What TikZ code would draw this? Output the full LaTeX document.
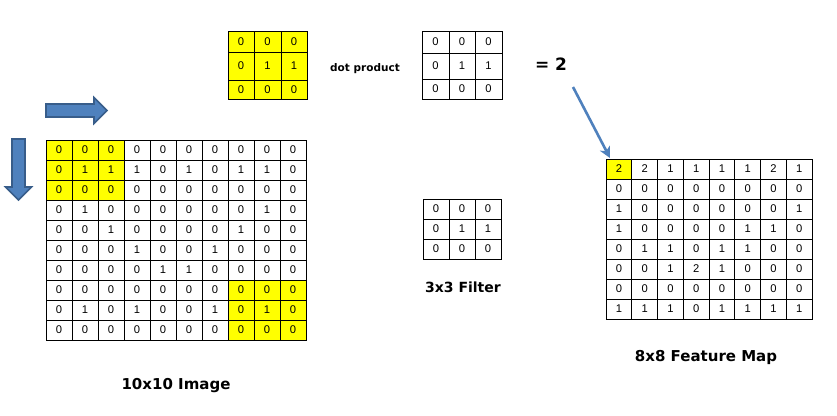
\documentclass[tikz,border=0pt]{standalone}
\usepackage{fontspec}
\setmainfont{Liberation Sans}
\newfontfamily\labfont{DejaVu Sans}
\usetikzlibrary{arrows.meta}
\definecolor{arrowblue}{HTML}{4F81BD}
\definecolor{arrowedge}{HTML}{385D8A}
\definecolor{cellyellow}{HTML}{FFFF00}
\tikzset{
  cell/.style={draw=black, line width=0.9pt, inner sep=0pt, outer sep=0pt,
    font=\fontsize{11.2}{13}\selectfont, text=black},
  lbl/.style={inner sep=0pt, anchor=base, text=black},
  lblbig/.style={lbl, font=\labfont\bfseries\fontsize{15}{18}\selectfont},
  lblsmall/.style={lbl, font=\labfont\bfseries\fontsize{10.5}{12}\selectfont},
  blockarrow/.style={fill=arrowblue, draw=arrowedge, line width=1.6pt, line join=miter},
  thinarrow/.style={draw=arrowblue, line width=2.6pt,
    -{Stealth[length=11pt, width=11pt, inset=3pt]}}
}
\begin{document}
\begin{tikzpicture}[x=1pt, y=-1pt]
\useasboundingbox (0,0) rectangle (837,415);
\fill[white] (0,0) rectangle (837,415);

% block arrows
\draw[blockarrow] (46,104) -- (94,104) -- (94,97.5) -- (107,110.5) -- (94,123.5)
  -- (94,117) -- (46,117) -- cycle;
\draw[blockarrow] (12,139) -- (25,139) -- (25,187) -- (31.5,187) -- (18.5,200)
  -- (5.5,187) -- (12,187) -- cycle;

% 10x10 image
\foreach \row [count=\r] in {
  {0,0,0,0,0,0,0,0,0,0},
  {0,1,1,1,0,1,0,1,1,0},
  {0,0,0,0,0,0,0,0,0,0},
  {0,1,0,0,0,0,0,0,1,0},
  {0,0,1,0,0,0,0,1,0,0},
  {0,0,0,1,0,0,1,0,0,0},
  {0,0,0,0,1,1,0,0,0,0},
  {0,0,0,0,0,0,0,0,0,0},
  {0,1,0,1,0,0,1,0,1,0},
  {0,0,0,0,0,0,0,0,0,0}}{
  \foreach \v [count=\c] in \row {
    \pgfmathtruncatemacro\isy{((\r<4)&&(\c<4))||((\r>7)&&(\c>7))}
    \ifnum\isy=1 \def\cf{cellyellow}\else\def\cf{white}\fi
    \node[cell, fill=\cf, minimum width=26pt, minimum height=20pt]
      (img-\r-\c) at ({33+26*\c},{130+20*\r}) {\v};
  }
}

% 8x8 feature map
\foreach \row [count=\r] in {
  {2,2,1,1,1,1,2,1},
  {0,0,0,0,0,0,0,0},
  {1,0,0,0,0,0,0,1},
  {1,0,0,0,0,1,1,0},
  {0,1,1,0,1,1,0,0},
  {0,0,1,2,1,0,0,0},
  {0,0,0,0,0,0,0,0},
  {1,1,1,0,1,1,1,1}}{
  \foreach \v [count=\c] in \row {
    \pgfmathtruncatemacro\isy{(\r==1)&&(\c==1)}
    \ifnum\isy=1 \def\cf{cellyellow}\else\def\cf{white}\fi
    \node[cell, fill=\cf, minimum width=25.75pt, minimum height=20pt]
      (fm-\r-\c) at ({593.125+25.75*\c},{149+20*\r}) {\v};
  }
}

% top yellow window
\foreach \ya/\yb [count=\r] in {31/52,52/80,80/99}{
  \foreach \xa/\xb [count=\c] in {228/254,254/281,281/307}{
    \pgfmathtruncatemacro\v{(\r==2)&&(\c>1)}
    \pgfmathsetmacro\w{\xb-\xa}
    \pgfmathsetmacro\h{\yb-\ya}
    \node[cell, fill=cellyellow, minimum width=\w pt, minimum height=\h pt]
      (win-\r-\c) at ({(\xa+\xb)/2},{(\ya+\yb)/2}) {\v};
  }
}

% filter next to dot product
\foreach \ya/\yb [count=\r] in {31/53,53/79,79/99}{
  \foreach \xa/\xb [count=\c] in {422/449,449/475,475/502}{
    \pgfmathtruncatemacro\v{(\r==2)&&(\c>1)}
    \pgfmathsetmacro\w{\xb-\xa}
    \pgfmathsetmacro\h{\yb-\ya}
    \node[cell, fill=white, minimum width=\w pt, minimum height=\h pt]
      (dfil-\r-\c) at ({(\xa+\xb)/2},{(\ya+\yb)/2}) {\v};
  }
}

% 3x3 filter
\foreach \ya/\yb [count=\r] in {199/219,219/239,239/259}{
  \foreach \xa/\xb [count=\c] in {423/449,449/475,475/501}{
    \pgfmathtruncatemacro\v{(\r==2)&&(\c>1)}
    \pgfmathsetmacro\w{\xb-\xa}
    \pgfmathsetmacro\h{\yb-\ya}
    \node[cell, fill=white, minimum width=\w pt, minimum height=\h pt]
      (filt-\r-\c) at ({(\xa+\xb)/2},{(\ya+\yb)/2}) {\v};
  }
}

% labels
\node[lblsmall] (dot) at (365,71.5) {dot product};
\node[lbl, font=\labfont\bfseries\fontsize{17}{20}\selectfont] (eq) at (551,70.8) {= 2};
\node[lbl, font=\labfont\bfseries\fontsize{14}{17}\selectfont] (filtlabel) at (463,292.7) {3x3 Filter};
\node[lblbig] (imglabel) at (176,389.3) {10x10 Image};
\node[lblbig] (fmlabel) at (706,361.5) {8x8 Feature Map};

% arrow to feature map
\coordinate (arrstart) at (573,87);
\coordinate (arrend) at (610,158);
\draw[thinarrow] (arrstart) -- (arrend);
\end{tikzpicture}
\end{document}
